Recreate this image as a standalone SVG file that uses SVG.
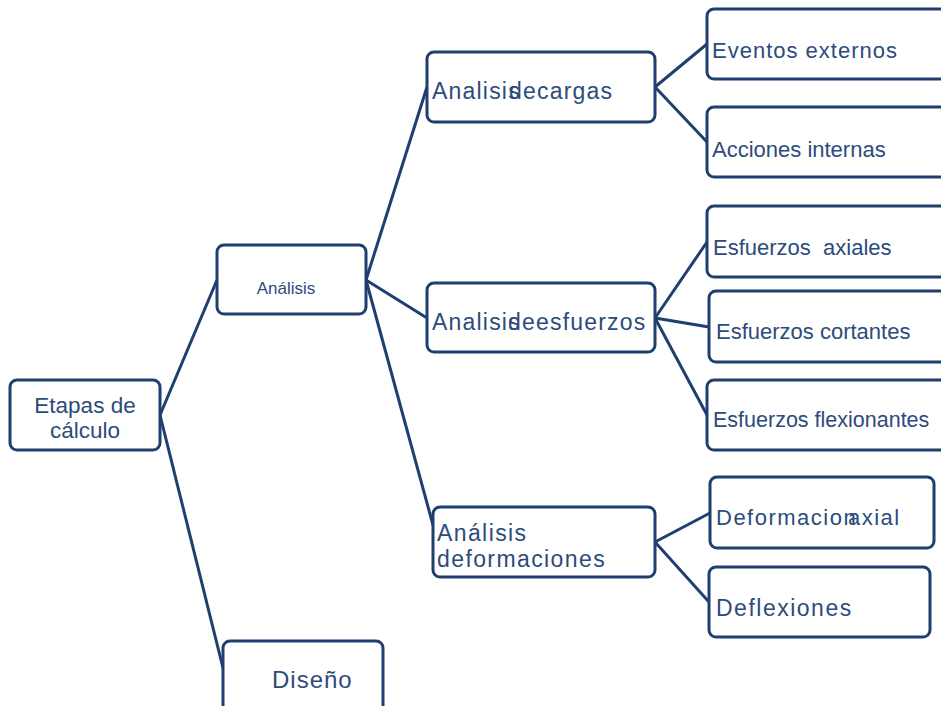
<svg xmlns="http://www.w3.org/2000/svg" width="941" height="706" viewBox="0 0 941 706">
<style>
.box{fill:#fff;stroke:#1f3f6f;stroke-width:3}
.ln{fill:none;stroke:#1f3f6f;stroke-width:3}
text{font-family:"Liberation Sans",Arial,sans-serif;fill:#2d4b7b}
</style>
<rect width="941" height="706" fill="#fff"/>
<g id="connectors">
<line class="ln" x1="160" y1="415" x2="217" y2="280"/>
<line class="ln" x1="160" y1="415" x2="223" y2="668"/>
<line class="ln" x1="366" y1="280" x2="427" y2="87"/>
<line class="ln" x1="366" y1="280" x2="427" y2="318"/>
<line class="ln" x1="366" y1="280" x2="433" y2="525"/>
<line class="ln" x1="655" y1="87" x2="707" y2="44"/>
<line class="ln" x1="655" y1="87" x2="707" y2="142"/>
<line class="ln" x1="655" y1="318" x2="707" y2="242"/>
<line class="ln" x1="655" y1="318" x2="709" y2="327"/>
<line class="ln" x1="655" y1="318" x2="707" y2="415"/>
<line class="ln" x1="655" y1="542" x2="710" y2="513"/>
<line class="ln" x1="655" y1="542" x2="709" y2="602"/>
</g>
<g id="etapas">
<rect class="box" x="10" y="380" width="150" height="70" rx="7"/>
<text x="85" y="413" font-size="22.5" text-anchor="middle">Etapas de</text>
<text x="85" y="438" font-size="22.5" text-anchor="middle">cálculo</text>
</g>
<g id="analisis">
<rect class="box" x="217" y="245" width="149" height="69" rx="7"/>
<text x="286" y="294" font-size="17" text-anchor="middle">Análisis</text>
</g>
<g id="diseno">
<rect class="box" x="223" y="641" width="160" height="80" rx="7"/>
<text x="272" y="688" font-size="24" letter-spacing="1">Diseño</text>
</g>
<g id="cargas">
<rect class="box" x="427" y="52" width="228" height="70" rx="7"/>
<text x="432" y="99" font-size="23" letter-spacing="1.2">Analisis <tspan x="509" word-spacing="-7.6">de cargas</tspan></text>
</g>
<g id="esfuerzos">
<rect class="box" x="427" y="283" width="228" height="69" rx="7"/>
<text x="432" y="330" font-size="23" letter-spacing="1.2">Analisis <tspan x="508" word-spacing="-7.6">de esfuerzos</tspan></text>
</g>
<g id="deformaciones">
<rect class="box" x="433" y="507" width="222" height="70" rx="7"/>
<text x="437" y="541" font-size="23" letter-spacing="1.4">Análisis</text>
<text x="437" y="567" font-size="23" letter-spacing="1.4">deformaciones</text>
</g>
<g id="eventos">
<rect class="box" x="707" y="9" width="250" height="70" rx="7"/>
<text x="712" y="58" font-size="22" letter-spacing="1">Eventos externos</text>
</g>
<g id="acciones">
<rect class="box" x="707" y="107" width="250" height="70" rx="7"/>
<text x="712" y="157" font-size="22">Acciones internas</text>
</g>
<g id="axiales">
<rect class="box" x="707" y="206" width="250" height="71" rx="7"/>
<text x="713" y="255" font-size="22" xml:space="preserve">Esfuerzos  axiales</text>
</g>
<g id="cortantes">
<rect class="box" x="709" y="291" width="250" height="71" rx="7"/>
<text x="716" y="339" font-size="22">Esfuerzos cortantes</text>
</g>
<g id="flexionantes">
<rect class="box" x="707" y="380" width="250" height="70" rx="7"/>
<text x="713" y="427" font-size="21.5">Esfuerzos flexionantes</text>
</g>
<g id="defaxial">
<rect class="box" x="710" y="477" width="224" height="71" rx="7"/>
<text x="716" y="525" font-size="22" letter-spacing="1.5">Deformacion <tspan x="848">axial</tspan></text>
</g>
<g id="deflexiones">
<rect class="box" x="709" y="567" width="221" height="70" rx="7"/>
<text x="716" y="616" font-size="23" letter-spacing="1.5">Deflexiones</text>
</g>
</svg>
